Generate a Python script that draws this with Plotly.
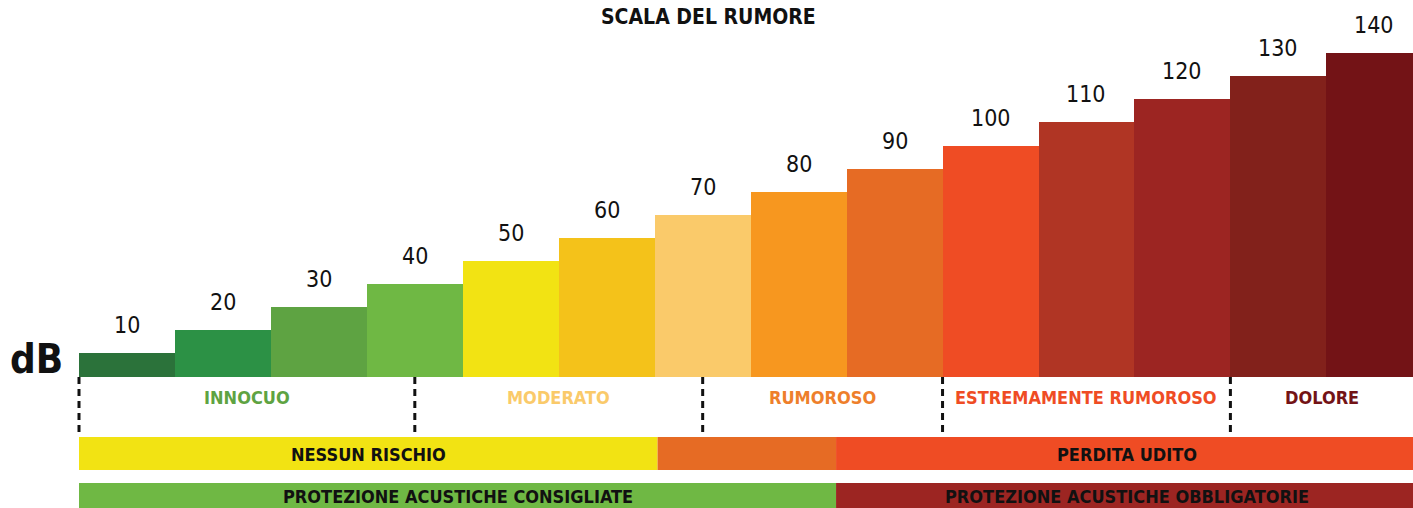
import plotly.graph_objects as go

# Noise scale data
levels = ["10", "20", "30", "40", "50", "60", "70", "80", "90", "100", "110", "120", "130", "140"]
db_values = [10, 20, 30, 40, 50, 60, 70, 80, 90, 100, 110, 120, 130, 140]
bar_colors = ["#2B723A", "#2C9145", "#5EA342", "#6FB844", "#F2E313", "#F4C21A", "#FACA6A",
              "#F7971F", "#E66B24", "#EF4C24", "#B03524", "#9C2522", "#82211B", "#731316"]

# Zones (label, start, end in bar-index units, colour)
zone_labels = ["INNOCUO", "MODERATO", "RUMOROSO", "ESTREMAMENTE RUMOROSO", "DOLORE"]
zone_edges = [-0.5, 3.0, 6.0, 8.5, 11.5, 13.4]
zone_colors = ["#5EA342", "#FACA6A", "#EE7F2B", "#EF4C24", "#731316"]

# Risk band and protection band segments
risk_labels = ["NESSUN RISCHIO", "", "PERDITA UDITO"]
risk_edges = [-0.5, 5.53, 7.39, 13.45]
risk_colors = ["#F2E313", "#E66B24", "#EF4C24"]

prot_labels = ["PROTEZIONE ACUSTICHE CONSIGLIATE", "PROTEZIONE ACUSTICHE OBBLIGATORIE"]
prot_edges = [-0.5, 7.39, 13.45]
prot_colors = ["#6FB844", "#9C2522"]

FONT = "DejaVu Sans Condensed, Roboto, sans-serif"
W, H = 1413, 508
PX_PER_DB = 2.31
BASE_PX = 376.5

x_idx = list(range(len(db_values)))

fig = go.Figure()
fig.add_trace(go.Bar(
    x=x_idx, y=db_values, width=1.0,
    marker=dict(color=bar_colors, line=dict(width=0)),
    hoverinfo="skip", showlegend=False,
))

annotations = []
# value labels above the bars
for xi, v, lab in zip(x_idx, db_values, levels):
    annotations.append(dict(x=xi, y=v, xref="x", yref="y", text=lab, showarrow=False,
                            xanchor="center", yanchor="bottom", yshift=13,
                            font=dict(family=FONT, size=23, color="#111111")))

def py(px):
    """pixel row -> paper y"""
    return 1 - px / H

shapes = []
# dashed separators between zones
for e in zone_edges[:-1]:
    shapes.append(dict(type="line", xref="x", yref="paper", x0=e, x1=e,
                       y0=py(377), y1=py(434),
                       line=dict(color="#111111", width=3, dash="7px,5px")))
# zone labels
for i, lab in enumerate(zone_labels):
    annotations.append(dict(x=(zone_edges[i] + zone_edges[i + 1]) / 2, y=py(397),
                            xref="x", yref="paper", text="<b>%s</b>" % lab, showarrow=False,
                            xanchor="center", yanchor="middle",
                            font=dict(family=FONT, size=18, color=zone_colors[i])))

# risk band
for i, lab in enumerate(risk_labels):
    shapes.append(dict(type="rect", xref="x", yref="paper", x0=risk_edges[i], x1=risk_edges[i + 1],
                       y0=py(470), y1=py(437), fillcolor=risk_colors[i], line=dict(width=0), layer="below"))
    if lab:
        annotations.append(dict(x=(risk_edges[i] + risk_edges[i + 1]) / 2, y=py(454), xref="x", yref="paper",
                                text="<b>%s</b>" % lab, showarrow=False,
                                xanchor="center", yanchor="middle",
                                font=dict(family=FONT, size=18, color="#111111")))

# protection band
for i, lab in enumerate(prot_labels):
    shapes.append(dict(type="rect", xref="x", yref="paper", x0=prot_edges[i], x1=prot_edges[i + 1],
                       y0=py(520), y1=py(483), fillcolor=prot_colors[i], line=dict(width=0), layer="below"))
    annotations.append(dict(x=(prot_edges[i] + prot_edges[i + 1]) / 2, y=py(496), xref="x", yref="paper",
                            text="<b>%s</b>" % lab, showarrow=False,
                            xanchor="center", yanchor="middle",
                            font=dict(family=FONT, size=18, color="#111111")))

# title and unit
annotations.append(dict(x=708 / W, y=py(17), xref="paper", yref="paper",
                        text="<b>SCALA DEL RUMORE</b>", showarrow=False,
                        xanchor="center", yanchor="middle",
                        font=dict(family=FONT, size=21, color="#111111")))
annotations.append(dict(x=36 / W, y=py(359), xref="paper", yref="paper",
                        text="<b>dB</b>", showarrow=False,
                        xanchor="center", yanchor="middle",
                        font=dict(family=FONT, size=40, color="#111111")))

step = 95.95
x_left = -79 / step - 0.5
x_right = (W - 79) / step - 0.5
y_top = BASE_PX / PX_PER_DB
y_bot = -(H - BASE_PX) / PX_PER_DB

fig.update_layout(
    width=W, height=H,
    margin=dict(l=0, r=0, t=0, b=0),
    paper_bgcolor="white", plot_bgcolor="white",
    bargap=0,
    xaxis=dict(range=[x_left, x_right], visible=False, fixedrange=True),
    yaxis=dict(range=[y_bot, y_top], visible=False, fixedrange=True),
    shapes=shapes, annotations=annotations,
    font=dict(family=FONT),
)

fig.write_html("out.html", config={"displayModeBar": False})
